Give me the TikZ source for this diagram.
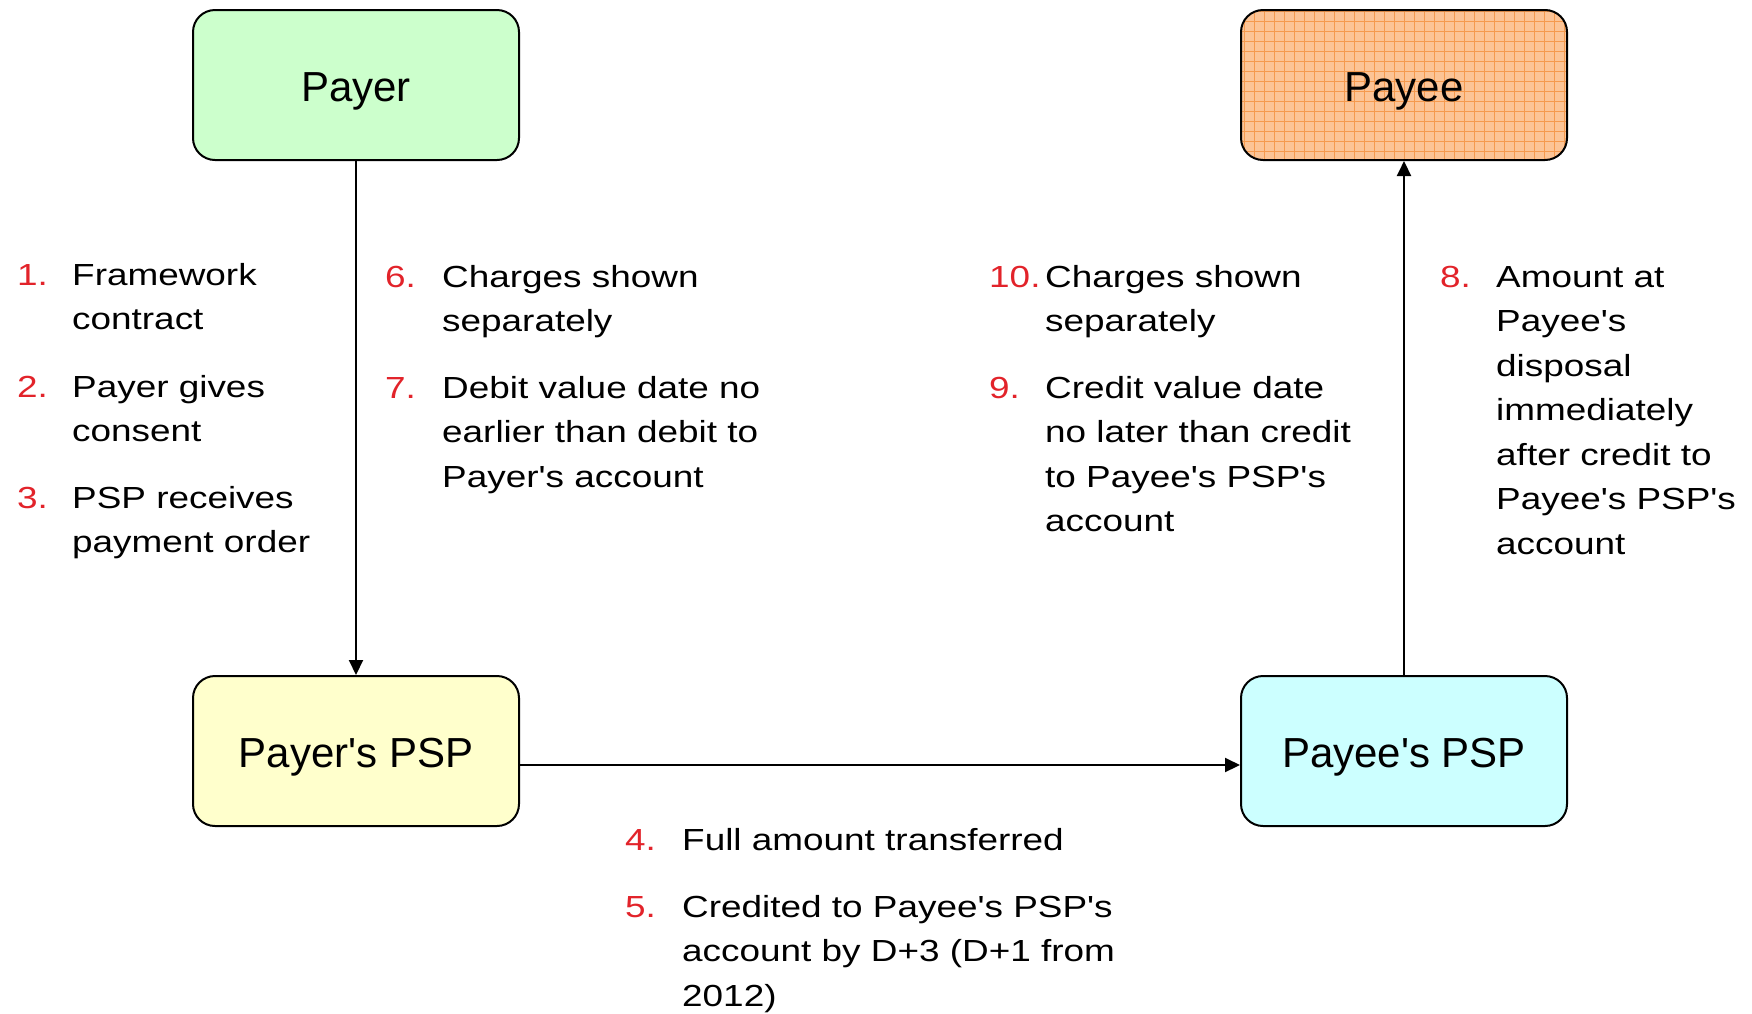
\documentclass[tikz,border=0pt]{standalone}
\usepackage{fontspec}
\setmainfont{Liberation Sans}[Ligatures=TeXOff]
\newfontfamily\listfont{Liberation Sans}[Ligatures=TeXOff, FakeStretch=1.21]
\usetikzlibrary{arrows.meta}

\definecolor{payergreen}{HTML}{CCFFCC}
\definecolor{pspyellow}{HTML}{FFFFCC}
\definecolor{pspcyan}{HTML}{CCFFFF}
\definecolor{payeeorange}{HTML}{FCC496}
\definecolor{payeegrid}{HTML}{F59A4E}
\definecolor{numred}{HTML}{E2232A}

\begin{document}
\begin{tikzpicture}[x=1pt, y=-1pt,
    party/.style={draw, line width=2pt, rounded corners=22pt,
      minimum width=326pt, minimum height=150pt, inner sep=0pt,
      text height=40pt, text depth=8pt,
      font=\fontsize{42}{50}\selectfont},
    num/.style={anchor=base west, inner sep=0pt, text=numred,
      font=\listfont\fontsize{30.5}{44.5}\selectfont},
    txt/.style={anchor=base west, inner sep=0pt, align=left,
      font=\listfont\fontsize{30.5}{44.5}\selectfont},
    flow/.style={line width=2pt, -{Triangle[length=15pt,width=14pt]}}]
  \useasboundingbox (0,0) rectangle (1752,1013);

  % the four parties
  \node[party, fill=payergreen] (payer) at (356,85) {Payer};
  \node[party, fill=payeeorange, path picture={
      \draw[payeegrid, line width=0.8pt]
        (path picture bounding box.south west) grid[step=10pt]
        (path picture bounding box.north east);}] (payee) at (1404,85) {Payee};
  \node[party, fill=pspyellow] (payerpsp) at (356,751) {Payer's PSP};
  \node[party, fill=pspcyan] (payeepsp) at (1404,751) {Payee's PSP};

  % flows
  \draw[flow] (payer) -- (payerpsp);
  \draw[flow] ([yshift=-14pt]payerpsp.east) -- ([yshift=-14pt]payeepsp.west);
  \draw[flow] (payeepsp) -- (payee);

  % payer side (text nodes sit on the baseline of their last line)
  \node[num] (n1) at (17,285) {1.};
  \node[txt] (t1) at (72,329.5) {Framework\\contract};
  \node[num] (n2) at (17,397) {2.};
  \node[txt] (t2) at (72,441.5) {Payer gives\\consent};
  \node[num] (n3) at (17,508) {3.};
  \node[txt] (t3) at (72,552.5) {PSP receives\\payment order};

  \node[num] (n6) at (385,287) {6.};
  \node[txt] (t6) at (442,331.5) {Charges shown\\separately};
  \node[num] (n7) at (385,398) {7.};
  \node[txt] (t7) at (442,487) {Debit value date no\\earlier than debit to\\Payer's account};

  % transfer
  \node[num] (n4) at (625,850) {4.};
  \node[txt] (t4) at (682,850) {Full amount transferred};
  \node[num] (n5) at (625,917) {5.};
  \node[txt] (t5) at (682,1006) {Credited to Payee's PSP's\\account by D+3 (D+1 from\\2012)};

  % payee side
  \node[num] (n10) at (989,287) {10.};
  \node[txt] (t10) at (1045,331.5) {Charges shown\\separately};
  \node[num] (n9) at (989,398) {9.};
  \node[txt] (t9) at (1045,531.5) {Credit value date\\no later than credit\\to Payee's PSP's\\account};

  \node[num] (n8) at (1440,287) {8.};
  \node[txt] (t8) at (1496,554) {Amount at\\Payee's\\disposal\\immediately\\after credit to\\Payee's PSP's\\account};
\end{tikzpicture}
\end{document}
